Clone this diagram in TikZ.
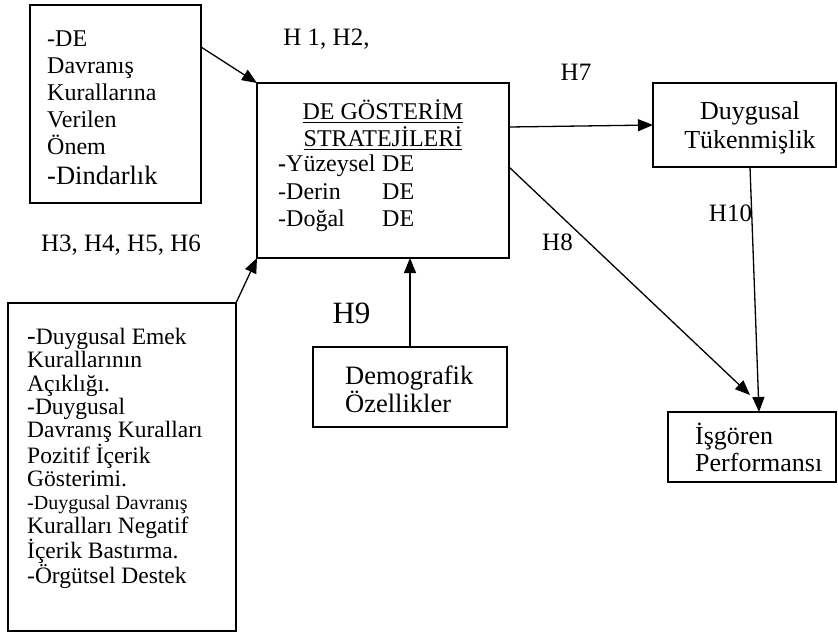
\documentclass[tikz,border=0pt]{standalone}
\usepackage{fontspec}
\setmainfont{Liberation Serif}
\usetikzlibrary{arrows.meta,calc}
\newcommand\myul[1]{\setbox0\hbox{#1}\rlap{\rule[-3.5pt]{\wd0}{1.4pt}}\box0}
\begin{document}
\begin{tikzpicture}[x=1pt,y=-1pt,
  box/.style={draw,line width=1.3pt,inner sep=0pt,outer sep=0pt},
  txt/.style={inner sep=0pt,align=left},
  lbl/.style={inner sep=0pt,font=\fontsize{25}{28}\selectfont},
  arr/.style={line width=1.3pt,-{Triangle[length=15pt,width=12pt]}}]
\useasboundingbox (0,0) rectangle (838,638);
% boxes
\node[box,minimum width=171pt,minimum height=198pt] (b1) at (115.5,104) {};
\node[box,minimum width=252pt,minimum height=175pt] (main) at (383,170.5) {};
\node[box,minimum width=183pt,minimum height=84pt] (duy) at (744.5,125) {};
\node[box,minimum width=168pt,minimum height=70pt] (isg) at (752,447) {};
\node[box,minimum width=194pt,minimum height=80pt] (demo) at (410,387) {};
\node[box,minimum width=228pt,minimum height=328pt] (b3) at (122,467) {};
% texts
\node[txt,anchor=west,font=\fontsize{24}{27}\selectfont] (t1) at (47,108)
  {-DE\\Davranış\\Kurallarına\\Verilen\\Önem\\[3pt]{\fontsize{26.5}{30}\selectfont -Dindarlık}};
\node[txt,align=center,font=\fontsize{24}{27}\selectfont] (mh) at (383,125)
  {\myul{DE GÖSTERİM}\\\myul{STRATEJİLERİ}};
\node[txt,anchor=west,font=\fontsize{24}{27.5}\selectfont] (ml) at (278,193.5)
  {\makebox[104pt][l]{\textbf{-}Yüzeysel}DE\\\makebox[104pt][l]{-Derin}DE\\\makebox[104pt][l]{-Doğal}DE};
\node[txt,align=center,font=\fontsize{26}{29}\selectfont] (td) at (750,127.5)
  {Duygusal\\Tükenmişlik};
\node[txt,anchor=west,font=\fontsize{26}{27}\selectfont] (ti) at (695,447.5)
  {İşgören\\Performansı};
\node[txt,anchor=west,font=\fontsize{26.5}{26}\selectfont] (tdm) at (345,389)
  {Demografik\\Özellikler};
\node[txt,anchor=west,font=\fontsize{23.5}{23.3}\selectfont] (t3) at (27,458.5)
  {{\fontsize{26}{23.3}\selectfont -}Duygusal Emek\\Kurallarının\\Açıklığı.\\-Duygusal\\Davranış Kuralları\\Pozitif İçerik\\Gösterimi.\\{\fontsize{20}{23.3}\selectfont -Duygusal Davranış}\\Kuralları Negatif\\İçerik Bastırma.\\-Örgütsel Destek};
% labels
\node[lbl] (h12) at (326.5,39) {H 1, H2,};
\node[lbl] (h7) at (576,72) {H7};
\node[lbl] (h36) at (121,245) {H3, H4, H5, H6};
\node[lbl] (h8) at (557.5,242) {H8};
\node[lbl] (h10) at (730.5,213) {H10};
\node[inner sep=0pt,font=\fontsize{31}{34}\selectfont] (h9) at (351.5,313) {H9};
% connectors
\coordinate (h8end) at (750,395);
\draw[arr] ([yshift=-42pt]b1.north east) -- (main.north west);
\draw[arr] (b3.north east) -- (main.south west);
\draw[arr] (demo.north) -- (demo.north |- main.south);
\draw[arr] ([yshift=43.5pt]main.east) -- (duy.west);
\draw[arr] ([yshift=3.5pt]main.east) -- (h8end);
\draw[arr] ([xshift=5.5pt]duy.south) -- ([xshift=7pt]isg.north);
\end{tikzpicture}
\end{document}
